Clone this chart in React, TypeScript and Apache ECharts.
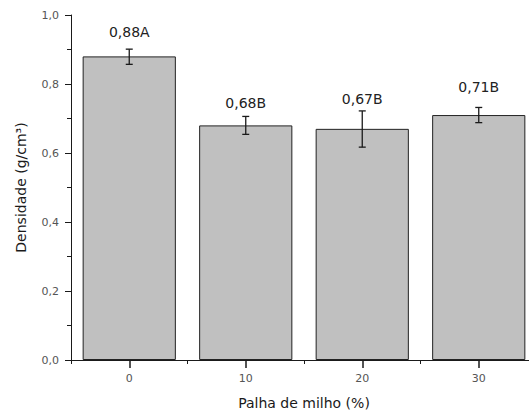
import React, { useEffect, useRef } from "react";
import * as echarts from "echarts";

const categories = ["0", "10", "20", "30"];
const densidade = [0.88, 0.68, 0.67, 0.71];
const erroBaixo = [0.857, 0.654, 0.617, 0.688];
const erroAlto = [0.901, 0.706, 0.722, 0.732];
const rotulos = ["0,88A", "0,68B", "0,67B", "0,71B"];
const rotuloY = [0.951, 0.745, 0.757, 0.791];

const FONT = "'DejaVu Sans', 'Liberation Sans', Arial, sans-serif";

export default function App() {
  const ref = useRef<HTMLDivElement>(null);
  useEffect(() => {
    if (!ref.current) return;
    const chart = echarts.init(ref.current, undefined, { renderer: "svg" });
    const errData = categories.map((_, i) => [i, erroBaixo[i], erroAlto[i]]);
    const labData = categories.map((_, i) => [i, rotuloY[i]]);
    chart.setOption({
      animation: false,
      backgroundColor: "#ffffff",
      grid: { left: 71, right: 0, top: 15, bottom: 58, containLabel: false },
      xAxis: [
        {
          type: "category",
          data: categories,
          boundaryGap: true,
          name: "Palha de milho (%)",
          nameLocation: "middle",
          nameGap: 36,
          nameTextStyle: { fontFamily: FONT, fontSize: 14, color: "#1a1a1a" },
          axisLine: { show: true, lineStyle: { color: "#1a1a1a", width: 1 } },
          axisTick: { show: true, alignWithLabel: true, length: 8, inside: false, lineStyle: { color: "#1a1a1a", width: 1.5 } },
          axisLabel: { fontFamily: FONT, fontSize: 11, color: "#555", margin: 13 },
          splitLine: { show: false },
        },
        {
          type: "category",
          data: categories,
          boundaryGap: true,
          position: "bottom",
          axisLine: { show: false },
          axisTick: { show: true, alignWithLabel: false, length: 4, lineStyle: { color: "#1a1a1a", width: 1 } },
          axisLabel: { show: false },
          splitLine: { show: false },
        },
      ],
      yAxis: {
        type: "value",
        min: 0,
        max: 1,
        interval: 0.2,
        name: "Densidade (g/cm³)",
        nameLocation: "middle",
        nameGap: 43,
        nameTextStyle: { fontFamily: FONT, fontSize: 14, color: "#1a1a1a" },
        axisLine: { show: true, lineStyle: { color: "#1a1a1a", width: 1 } },
        axisTick: { show: true, length: 6, inside: false, lineStyle: { color: "#1a1a1a", width: 1 } },
        minorTick: { show: true, splitNumber: 2, length: 4, lineStyle: { color: "#1a1a1a", width: 1 } },
        axisLabel: {
          fontFamily: FONT,
          fontSize: 11,
          color: "#555",
          margin: 12,
          formatter: (v: number) => v.toFixed(1).replace(".", ","),
        },
        splitLine: { show: false },
      },
      series: [
        {
          type: "bar",
          data: densidade,
          barWidth: "80%",
          itemStyle: { color: "#c0c0c0", borderColor: "#222", borderWidth: 1 },
          z: 2,
        },
        {
          type: "custom",
          data: errData,
          z: 5,
          renderItem: (params: any, api: any) => {
            const i = api.value(0);
            const lo = api.coord([i, api.value(1)]);
            const hi = api.coord([i, api.value(2)]);
            const w = 3.5;
            const style = { stroke: "#1a1a1a", lineWidth: 1.3 };
            return {
              type: "group",
              children: [
                { type: "line", shape: { x1: lo[0], y1: lo[1], x2: hi[0], y2: hi[1] }, style },
                { type: "line", shape: { x1: lo[0] - w, y1: lo[1], x2: lo[0] + w, y2: lo[1] }, style },
                { type: "line", shape: { x1: hi[0] - w, y1: hi[1], x2: hi[0] + w, y2: hi[1] }, style },
              ],
            };
          },
        },
        {
          type: "custom",
          data: labData,
          z: 6,
          renderItem: (params: any, api: any) => {
            const i = api.value(0);
            const p = api.coord([i, api.value(1)]);
            return {
              type: "text",
              x: p[0],
              y: p[1],
              style: {
                text: rotulos[params.dataIndex],
                fontFamily: FONT,
                fontSize: 14,
                fill: "#222",
                align: "center",
                verticalAlign: "middle",
              },
            };
          },
        },
      ],
    });
    return () => chart.dispose();
  }, []);
  return (
    <div
      ref={ref}
      style={{ position: "fixed", left: 0, top: 0, width: 537, height: 418, background: "#fff" }}
    />
  );
}
